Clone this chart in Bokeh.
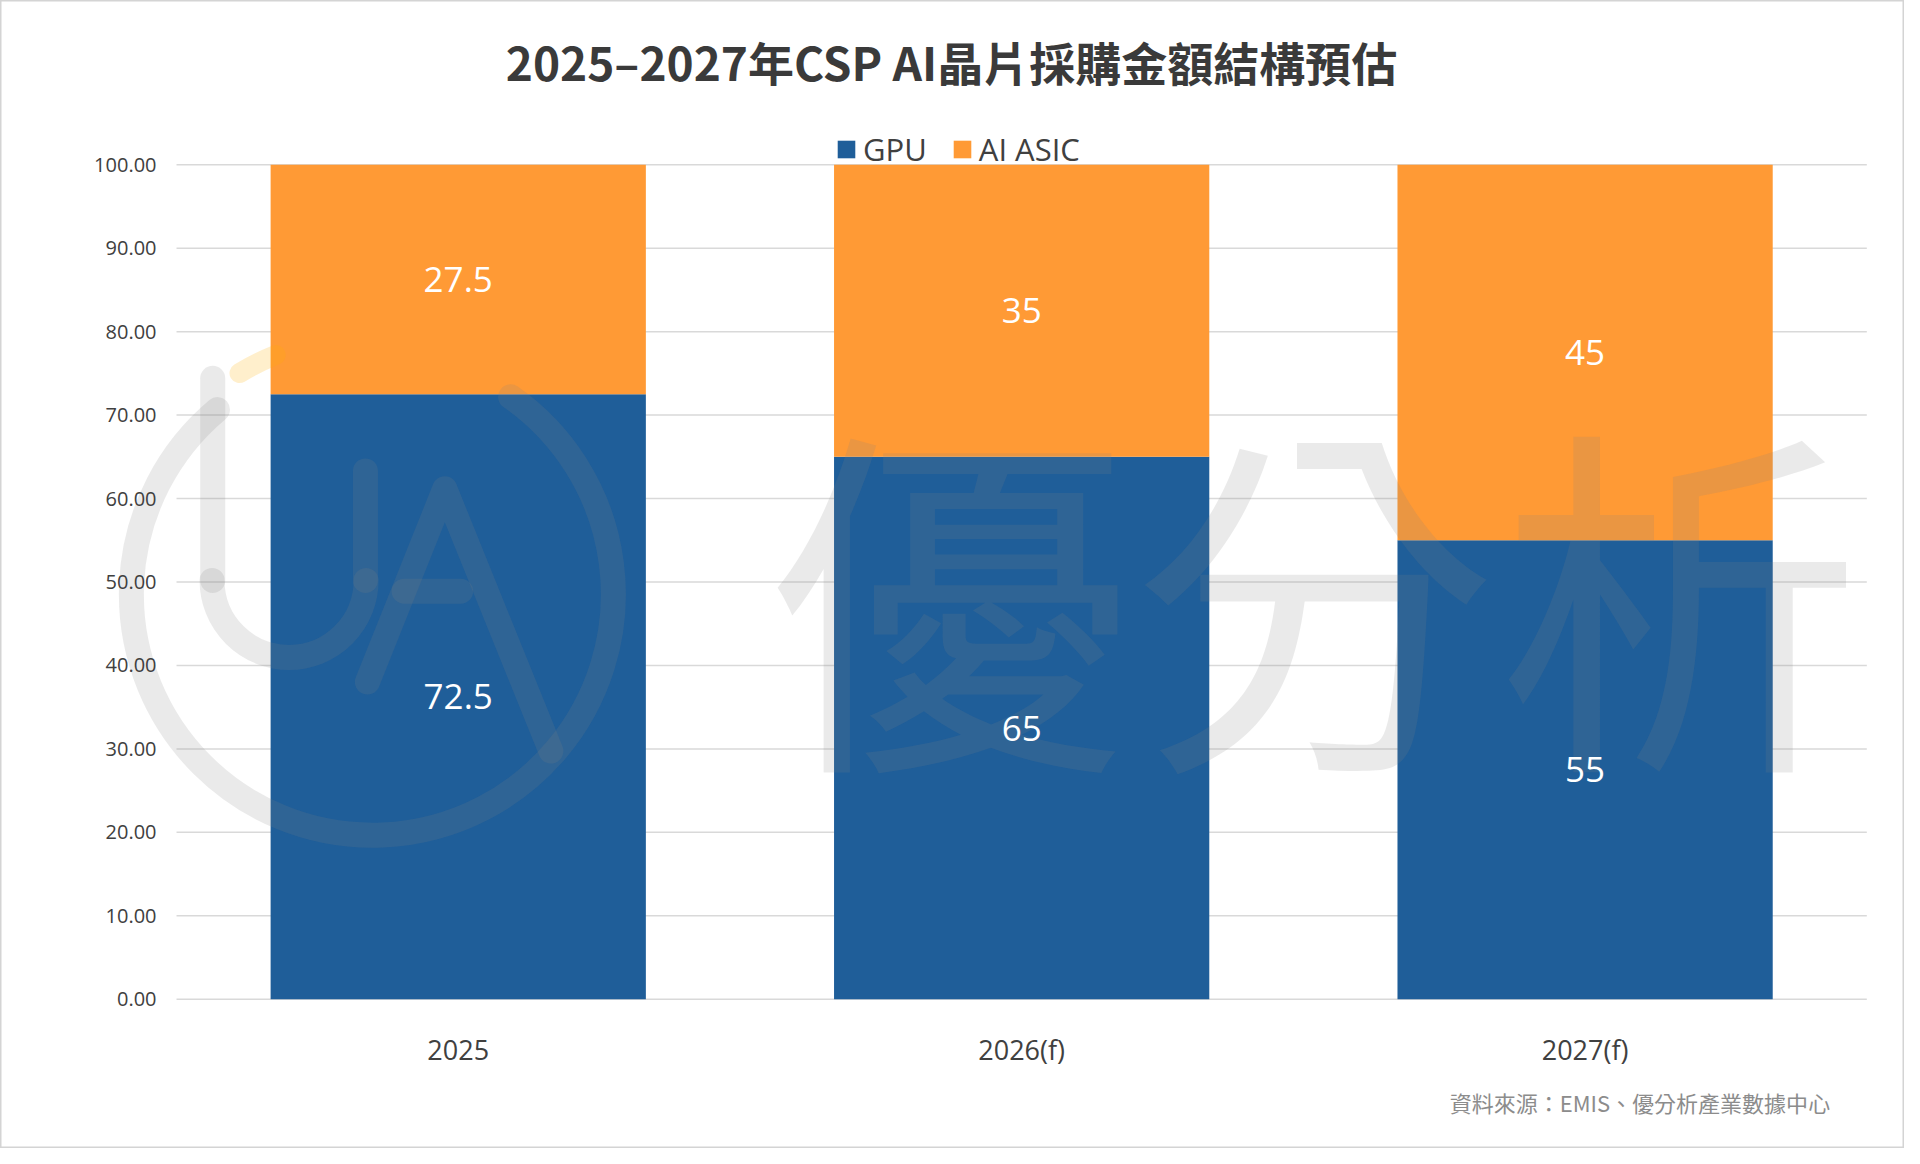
from math import radians

from bokeh.core.properties import value
from bokeh.embed import file_html
from bokeh.models import (ColumnDataSource, FixedTicker, Label, LabelSet,
                          NumeralTickFormatter, Range1d)
from bokeh.plotting import figure
from bokeh.resources import INLINE

# chart data
years = ["2025", "2026(f)", "2027(f)"]
gpu = [72.5, 65, 55]
asic = [27.5, 35, 45]
series = ["GPU", "AI ASIC"]
y_ticks = [0, 10, 20, 30, 40, 50, 60, 70, 80, 90, 100]

title_text = "2025\u20132027年CSP AI晶片採購金額結構預估"
source_text = "資料來源：EMIS、優分析產業數據中心"
watermark_text = "優分析"

BLUE = "#1F5E99"
ORANGE = "#FF9A35"
GRID = "#D9D9D9"
TEXT = "#404040"
WM = "#808080"

W, H = 1904, 1148
# plot area of the reference (1920x1164 px): x 0..3 and y 0..100 sit here
REF_W, REF_H = 1920, 1164
X0, X1, Y_TOP, Y_BOT = 177.5, 1882.0, 166.5, 1012.7
PX = (X1 - X0) / len(years)
PY = (Y_BOT - Y_TOP) / 100


def at(ox, oy):
    # reference pixel -> data coordinates (used for decorations and text placement)
    return (ox - X0) / PX, (Y_BOT - oy) / PY


xs = [i + 0.5 for i in range(len(years))]

# the frame covers the whole canvas so nothing drawn around the bars is clipped
p = figure(x_range=Range1d(*[at(v, 0)[0] for v in (0, REF_W)]),
           y_range=Range1d(*[at(0, v)[1] for v in (REF_H, 0)]),
           width=W, height=H, output_backend="svg", toolbar_location=None,
           min_border=0)
p.background_fill_color = "white"
p.border_fill_color = "white"
p.outline_line_color = "#D4D4D4"
p.outline_line_width = 2

# horizontal gridlines only across the plot area
p.xgrid.grid_line_color = None
p.ygrid.grid_line_color = None
p.segment(x0=0, x1=len(years), y0=y_ticks, y1=y_ticks, line_color=GRID, line_width=1.5)

src = ColumnDataSource(dict(x=xs, GPU=gpu, **{"AI ASIC": asic}))
p.vbar_stack(series, x="x", width=0.666, color=[BLUE, ORANGE], source=src,
             line_color=None, legend_label=series)

# axes
p.yaxis.ticker = FixedTicker(ticks=y_ticks)
p.yaxis.formatter = NumeralTickFormatter(format="0.00")
p.yaxis.fixed_location = 0
p.xaxis.ticker = FixedTicker(ticks=xs)
p.xaxis.major_label_overrides = dict(zip(xs, years))
p.xaxis.fixed_location = 0
for ax in (p.xaxis, p.yaxis):
    ax.axis_line_color = None
    ax.major_tick_line_color = None
    ax.minor_tick_line_color = None
    ax.major_tick_out = 0
    ax.major_tick_in = 0
    ax.major_label_text_font = "Open Sans"
    ax.major_label_text_color = TEXT
p.yaxis.major_label_text_font_size = "20px"
p.yaxis.major_label_standoff = 20
p.xaxis.major_label_text_font_size = "27px"
p.xaxis.major_label_standoff = 32

# watermark logo (drawn over the bars, faint)
wm = dict(line_color=WM, line_alpha=0.17, line_width=25, line_cap="round", line_join="round")
cx, cy = at(375, 602)
p.arc(x=[cx], y=[cy], radius=241, radius_units="screen", start_angle=radians(130),
      end_angle=radians(55), direction="anticlock", **wm)
p.arc(x=[cx], y=[cy], radius=258, radius_units="screen", start_angle=radians(112),
      end_angle=radians(121), direction="anticlock", line_color="#FFB000", line_alpha=0.2,
      line_width=20, line_cap="round")
ux, uy = at(291, 588)
p.arc(x=[ux], y=[uy], radius=77, radius_units="screen", start_angle=radians(180),
      end_angle=radians(360), direction="anticlock", **wm)
for pts in ([(214, 383), (214, 588)], [(368, 588), (368, 477)],
            [(370, 691), (448, 495), (555, 761)], [(407, 599), (464, 599)]):
    xy = [at(a, b) for a, b in pts]
    p.line([q[0] for q in xy], [q[1] for q in xy], **wm)

wx, wy = at(773, 592)
p.add_layout(Label(x=wx, y=wy, text=watermark_text, text_font="Noto Sans CJK TC",
                   text_font_size="365px", text_color=WM, text_alpha=0.17,
                   text_align="left", text_baseline="middle"))

# value labels in the middle of each segment
lab = ColumnDataSource(dict(
    x=xs + xs,
    y=[g / 2 for g in gpu] + [g + a / 2 for g, a in zip(gpu, asic)],
    t=[f"{v:g}" for v in gpu + asic],
))
p.add_layout(LabelSet(x="x", y="y", text="t", source=lab, text_color="white",
                      text_font=value("Open Sans"), text_font_size="35px",
                      text_align="center", text_baseline="middle"))

# title and source note
tx, ty = at(959, 61)
p.add_layout(Label(x=tx, y=ty, text=title_text, text_font="Noto Sans CJK TC",
                   text_font_style="bold", text_font_size="46px", text_color="#3A3A3A",
                   text_align="center", text_baseline="middle"))
sx, sy = at(1845, 1117)
p.add_layout(Label(x=sx, y=sy, text=source_text, text_font="Noto Sans CJK TC",
                   text_font_size="22px", text_color="#8C8C8C",
                   text_align="right", text_baseline="middle"))

# legend (location is in screen px from the bottom-left of the canvas)
leg = p.legend[0]
leg.orientation = "horizontal"
leg.location = (835, 978)
leg.label_text_font = "Open Sans"
leg.label_text_font_size = "31px"
leg.label_text_color = TEXT
leg.glyph_width = 22
leg.glyph_height = 22
leg.label_standoff = 6
leg.spacing = 24
leg.padding = 0
leg.margin = 0
leg.border_line_color = None
leg.background_fill_alpha = 0

open("out.html", "w").write(file_html(p, INLINE))
